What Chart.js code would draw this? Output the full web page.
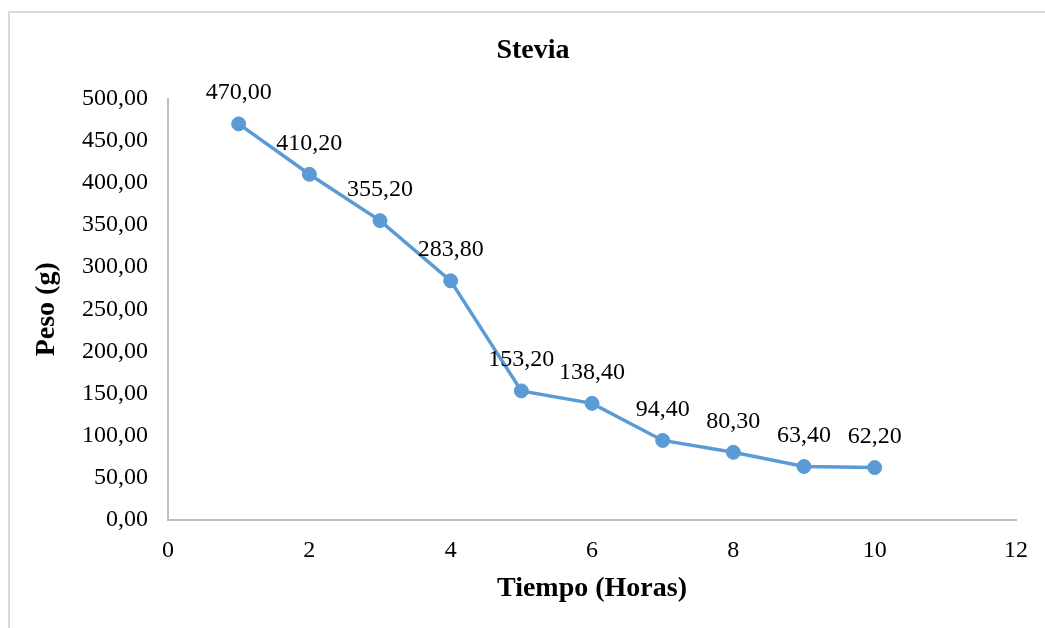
<!DOCTYPE html>
<html>
<head>
<meta charset="utf-8">
<script src="https://cdn.jsdelivr.net/npm/chart.js@4/dist/chart.umd.min.js"></script>
<style>
    html, body { margin: 0; padding: 0; background: #fff; overflow: hidden; }
    #frame { position: absolute; left: 8px; top: 11px; width: 1100px; height: 700px; border: 2px solid #d9d9d9; box-sizing: border-box; }
    #wrap { position: absolute; left: 0; top: 0; width: 1045px; height: 628px; }
</style>
</head>
<body>
<div id="frame"></div>
<div id="wrap"><canvas id="steviaChart" width="1045" height="628"></canvas></div>
<script>
// horas vs peso
const horas = [1, 2, 3, 4, 5, 6, 7, 8, 9, 10];
const peso = [470.00, 410.20, 355.20, 283.80, 153.20, 138.40, 94.40, 80.30, 63.40, 62.20];

const serif = '"Times New Roman", "Liberation Serif", serif';
const blue = '#5B9BD5';

function formatComma(v) {
    return Number(v).toFixed(2).replace('.', ',');
}

// etiquetas encima de cada punto
const pointLabels = {
    id: 'pointLabels',
    afterDatasetsDraw(chart) {
        const ctx = chart.ctx;
        const meta = chart.getDatasetMeta(0);
        ctx.save();
        ctx.font = '24px ' + serif;
        ctx.fillStyle = '#000';
        ctx.textAlign = 'center';
        ctx.textBaseline = 'middle';
        meta.data.forEach((pt, i) => {
            ctx.fillText(formatComma(peso[i]), pt.x, pt.y - 31);
        });
        ctx.restore();
    }
};

let ctx = document.getElementById('steviaChart').getContext('2d');
new Chart(ctx, {
    type: 'scatter',
    plugins: [pointLabels],
    data: {
        datasets: [{
            data: horas.map((h, i) => ({ x: h, y: peso[i] })),
            showLine: true,
            borderColor: blue,
            backgroundColor: blue,
            borderWidth: 3.5,
            pointRadius: 7,
            pointBorderWidth: 1,
            pointBorderColor: blue,
            pointBackgroundColor: blue
        }]
    },
    options: {
        responsive: false,
        animation: false,
        layout: { padding: { left: 21, right: 0, top: 0, bottom: 0 } },
        scales: {
            x: {
                type: 'linear',
                min: 0,
                max: 12,
                ticks: {
                    stepSize: 2,
                    color: '#000',
                    padding: 16,
                    font: { family: serif, size: 24 }
                },
                grid: { display: false, drawTicks: false },
                border: { color: '#bfbfbf', width: 2 },
                title: {
                    display: true,
                    text: 'Tiempo (Horas)',
                    color: '#000',
                    font: { family: serif, size: 28, weight: 'bold' },
                    padding: { top: 0, bottom: 22 }
                },
                afterFit(scale) { scale.height = 108; }
            },
            y: {
                min: 0,
                max: 500,
                ticks: {
                    stepSize: 50,
                    color: '#000',
                    padding: 20,
                    font: { family: serif, size: 24 },
                    callback: v => formatComma(v)
                },
                grid: { display: false, drawTicks: false },
                border: { color: '#bfbfbf', width: 2 },
                title: {
                    display: true,
                    text: 'Peso (g)',
                    color: '#000',
                    font: { family: serif, size: 28, weight: 'bold' },
                    padding: { top: 9, bottom: 0 }
                },
                afterFit(scale) { scale.width = 147; }
            },
            // eje vacio a la derecha, solo reserva margen
            yRight: {
                position: 'right',
                display: true,
                ticks: { display: false },
                grid: { display: false, drawTicks: false },
                border: { display: false },
                afterFit(scale) { scale.width = 29; }
            }
        },
        plugins: {
            legend: { display: false },
            tooltip: { enabled: false },
            title: {
                display: true,
                text: 'Stevia',
                color: '#000',
                font: { family: serif, size: 28, weight: 'bold' },
                padding: { top: 34, bottom: 31 }
            }
        }
    }
});
</script>
</body>
</html>
